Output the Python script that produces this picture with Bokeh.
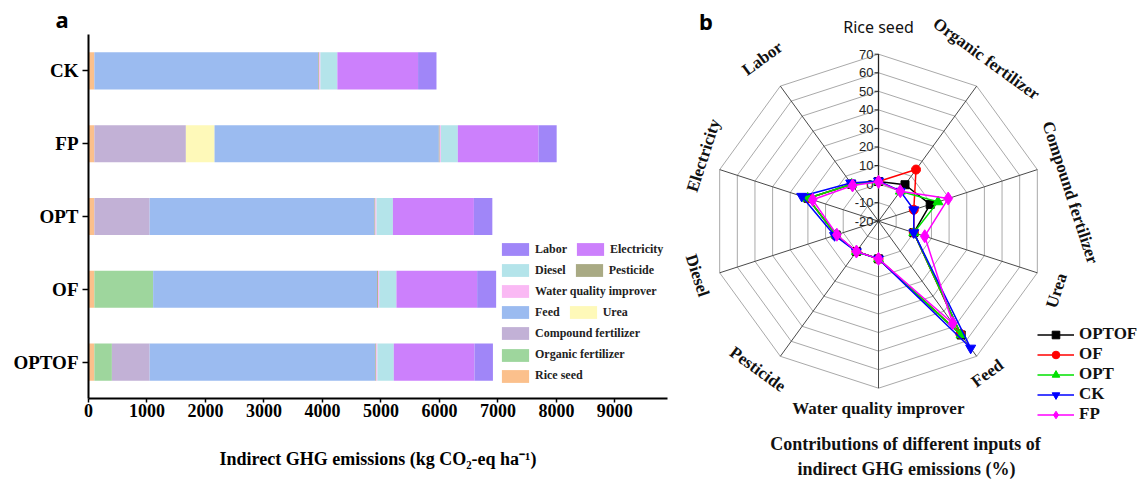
import numpy as np
from bokeh.plotting import figure
from bokeh.models import (ColumnDataSource, FactorRange, Range1d, FixedTicker,
                          Legend, LegendItem)
from bokeh.layouts import row
from bokeh.embed import file_html
from bokeh.resources import INLINE
from bokeh.core.properties import value

# ---------------- data: panel a (kg CO2-eq ha-1) ----------------
treatments = ["OPTOF", "OF", "OPT", "FP", "CK"]          # bottom -> top
rice_seed = [100, 100, 100, 100, 100]
organic_fertilizer = [300, 1005, 0, 0, 0]
compound_fertilizer = [645, 0, 945, 1565, 0]
urea = [0, 0, 0, 490, 0]
feed = [3860, 3830, 3845, 3835, 3830]
pesticide = [15, 15, 15, 15, 15]
water_quality_improver = [20, 20, 20, 20, 20]
diesel = [280, 295, 280, 290, 290]
electricity = [1380, 1380, 1385, 1380, 1380]
labor = [315, 325, 315, 310, 315]
x_ticks = [0, 1000, 2000, 3000, 4000, 5000, 6000, 7000, 8000, 9000]

# ---------------- data: panel b (% of indirect GHG) ----------------
radar_axes = ["Rice seed", "Organic fertilizer", "Compound fertilizer", "Urea", "Feed",
              "Water quality improver", "Pesticide", "Diesel", "Electricity", "Labor"]
optof_pct = [1.4, 4.3, 9.3, 0.0, 55.8, 0.3, 0.2, 4.0, 20.0, 4.6]
of_pct    = [1.4, 14.4, 0.0, 0.0, 55.0, 0.3, 0.2, 4.2, 19.8, 4.7]
opt_pct   = [1.4, 0.0, 13.7, 0.0, 55.7, 0.3, 0.2, 4.1, 20.1, 4.6]
ck_pct    = [1.7, 0.0, 0.0, 0.0, 64.5, 0.3, 0.3, 4.9, 23.5, 5.5]
fp_pct    = [1.2, 0.0, 19.5, 6.2, 48.0, 0.3, 0.2, 3.6, 17.3, 3.8]
radial_ticks = [-20, -10, 0, 10, 20, 30, 40, 50, 60, 70]

SERIF = "Liberation Serif"
SANS = "Liberation Sans"
W1 = 670            # width of panel a
W2 = 1145 - W1      # width of panel b
H = 480

# ======================= panel a =======================
stack_names = ["rice_seed", "organic_fertilizer", "compound_fertilizer", "urea", "feed",
               "pesticide", "water_quality_improver", "diesel", "electricity", "labor"]
stack_labels = {"rice_seed": "Rice seed", "organic_fertilizer": "Organic fertilizer",
                "compound_fertilizer": "Compound fertilizer", "urea": "Urea", "feed": "Feed",
                "pesticide": "Pesticide", "water_quality_improver": "Water quality improver",
                "diesel": "Diesel", "electricity": "Electricity", "labor": "Labor"}
stack_colors = {"rice_seed": "#fbc08c", "organic_fertilizer": "#9ed69d",
                "compound_fertilizer": "#c2b1d6", "urea": "#fef9b9", "feed": "#9bbbf0",
                "pesticide": "#a9aa84", "water_quality_improver": "#fab9f4",
                "diesel": "#b4e4ea", "electricity": "#cc80fc", "labor": "#a086f8"}

src = ColumnDataSource(dict(treat=treatments, rice_seed=rice_seed,
                            organic_fertilizer=organic_fertilizer,
                            compound_fertilizer=compound_fertilizer, urea=urea, feed=feed,
                            pesticide=pesticide, water_quality_improver=water_quality_improver,
                            diesel=diesel, electricity=electricity, labor=labor))

p = figure(width=W1, height=H, y_range=FactorRange(factors=treatments),
           x_range=Range1d(0, 9900), output_backend="svg", toolbar_location=None,
           min_border_left=88, min_border_right=W1 - 667, min_border_top=30,
           min_border_bottom=82, frame_align=False)
p.outline_line_color = None
p.grid.visible = False

rends = p.hbar_stack(stack_names, y="treat", height=0.51, source=src,
                     color=[stack_colors[s] for s in stack_names], line_color=None)
rmap = dict(zip(stack_names, rends))

p.xaxis.ticker = FixedTicker(ticks=x_ticks)
for ax in (p.xaxis, p.yaxis):
    ax.axis_line_color = "black"
    ax.axis_line_width = 2
    ax.major_tick_line_color = "black"
    ax.major_tick_line_width = 1.5
    ax.major_tick_in = 0
    ax.minor_tick_line_color = None
    ax.major_label_text_font = SERIF
    ax.major_label_text_font_style = "bold"
    ax.major_label_text_color = "black"
p.xaxis.major_tick_out = 4
p.xaxis.major_label_standoff = 1
p.xaxis.major_label_text_font_size = "18px"
p.yaxis.major_tick_out = 6
p.yaxis.major_label_standoff = 4
p.yaxis.major_label_text_font_size = "19px"
p.xaxis.axis_label = "Indirect GHG emissions (kg CO\u2082-eq ha\u207b\u00b9)"
p.xaxis.axis_label_text_font = SERIF
p.xaxis.axis_label_text_font_style = "bold"
p.xaxis.axis_label_text_font_size = "18px"
p.xaxis.axis_label_text_color = "black"
p.xaxis.axis_label_standoff = 29

p.title.text = "a"
p.title.align = "left"
p.title.offset = -33
p.title.standoff = 2
p.title.text_font = "Noto Sans"
p.title.text_font_size = "22px"
p.title.text_font_style = "bold"
p.title.text_color = "black"

legend_rows = [["labor", "electricity"], ["diesel", "pesticide"], ["water_quality_improver"],
               ["feed", "urea"], ["compound_fertilizer"], ["organic_fertilizer"], ["rice_seed"]]
frame_left, frame_bottom = 88, 398
for i, rw in enumerate(legend_rows):
    cy_screen = 249 + 21.1 * i
    lg = Legend(items=[LegendItem(label=stack_labels[s], renderers=[rmap[s]]) for s in rw],
                location=(498 - frame_left, frame_bottom - (cy_screen + 8)),
                orientation="horizontal", glyph_width=34, glyph_height=16, label_height=16,
                label_standoff=3, spacing=6, padding=0, margin=0,
                border_line_color=None, background_fill_alpha=0,
                label_text_font=SERIF, label_text_font_style="bold",
                label_text_font_size="12px", label_text_color="#222222")
    p.add_layout(lg)

# ======================= panel b =======================
X0 = W1  # screen x of panel b's left edge
q = figure(width=W2, height=H, x_range=Range1d(0, W2), y_range=Range1d(0, H),
           output_backend="svg", toolbar_location=None, min_border=0,
           x_axis_location=None, y_axis_location=None, frame_align=False)
q.outline_line_color = None
q.grid.visible = False

cx, cy, R = 878.0 - X0, H - 220.7, 167.0
rmin, rmax = radial_ticks[0], radial_ticks[-1]
k = R / (rmax - rmin)
n = len(radar_axes)
theta_deg = np.arange(n) * 360.0 / n
theta = np.deg2rad(theta_deg)


def to_xy(vals):
    r = (np.asarray(vals, dtype=float) - rmin) * k
    return cx + r * np.sin(theta), cy + r * np.cos(theta)


ring_xs, ring_ys = [], []
for t in radial_ticks[1:]:
    xs, ys = to_xy([t] * n)
    ring_xs.append(list(xs) + [xs[0]])
    ring_ys.append(list(ys) + [ys[0]])
q.multi_line(xs=ring_xs, ys=ring_ys, line_color="#a9a9a9", line_width=1)

ox, oy = to_xy([rmax] * n)
q.segment(x0=[cx] * n, y0=[cy] * n, x1=ox, y1=oy, line_color="#4a4a4a", line_width=1)

# radial axis on the "Rice seed" spoke
tick_y = [cy + (t - rmin) * k for t in radial_ticks]
q.segment(x0=[cx], y0=[cy], x1=[cx], y1=[cy + R], line_color="#222222", line_width=1.3)
q.segment(x0=[cx - 4] * len(tick_y), y0=tick_y, x1=[cx] * len(tick_y), y1=tick_y,
          line_color="#222222", line_width=1)
q.text(x=[cx - 5] * len(tick_y), y=tick_y, text=[str(t) for t in radial_ticks],
       text_align="right", text_baseline="middle", text_font=value(SANS),
       text_font_size="13px", text_color="#222222")

# category labels
label_r = [194, 195, 194, 191, 187, 187, 191, 189, 187, 200]
label_dt = [0, -2.4, 9.5, 3.3, 0.4, 0, 3.2, 1.3, 2.6, 0.5]
lx, ly, lang = [], [], []
for i in range(n):
    t = theta_deg[i] + label_dt[i]
    lx.append(cx + label_r[i] * np.sin(np.deg2rad(t)))
    ly.append(cy + label_r[i] * np.cos(np.deg2rad(t)))
    td = theta_deg[i]
    if td < 90:
        rot = -td
    elif td < 270:
        rot = 180 - td
    else:
        rot = 360 - td
    lang.append(np.deg2rad(rot))
q.text(x=lx[1:], y=ly[1:], text=radar_axes[1:], angle=lang[1:], text_align="center",
       text_baseline="middle", text_font=value(SERIF), text_font_style="bold",
       text_font_size="17px", text_color="#111111")
q.text(x=lx[:1], y=ly[:1], text=radar_axes[:1], text_align="center", text_baseline="middle",
       text_font=value("Noto Sans"), text_font_size="16px", text_color="#111111")

series = [("OPTOF", optof_pct, "#000000", "square", 8),
          ("OF", of_pct, "#ff0000", "circle", 9),
          ("OPT", opt_pct, "#00e000", "triangle", 10),
          ("CK", ck_pct, "#0000ff", "inverted_triangle", 10),
          ("FP", fp_pct, "#ff00ff", "diamond", 13)]
items = []
for name, vals, col, mk, sz in series:
    xs, ys = to_xy(vals)
    lr = q.line(list(xs) + [xs[0]], list(ys) + [ys[0]], line_color=col, line_width=1.5)
    sr = q.scatter(xs, ys, marker=mk, size=sz, fill_color=col, line_color=col)
    items.append(LegendItem(label=name, renderers=[lr, sr]))

rleg = Legend(items=items, location=(1037 - X0, H - 424), orientation="vertical",
              glyph_width=37, glyph_height=19, label_height=19, label_standoff=5, spacing=0,
              padding=0, margin=0, border_line_color=None, background_fill_alpha=0,
              label_text_font=SERIF, label_text_font_style="bold",
              label_text_font_size="17px", label_text_color="#111111")
q.add_layout(rleg)

q.text(x=[905 - X0, 906 - X0], y=[H - 443, H - 468],
       text=["Contributions of different inputs of", "indirect GHG emissions (%)"],
       text_align="center", text_baseline="middle", text_font=value(SERIF),
       text_font_style="bold", text_font_size="18px", text_color="#111111")
q.text(x=[705.5 - X0], y=[H - 20], text=["b"], text_align="center", text_baseline="middle",
       text_font=value("Noto Sans"), text_font_size="22px", text_font_style="bold",
       text_color="black")

layout = row(p, q)
open("out.html", "w").write(file_html(layout, INLINE))
